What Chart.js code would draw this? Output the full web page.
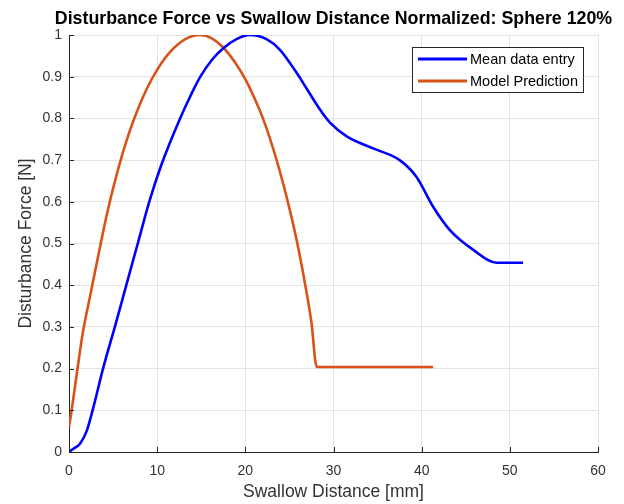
<!DOCTYPE html>
<html>
<head>
<meta charset="utf-8">
<script src="https://cdn.jsdelivr.net/npm/chart.js@4/dist/chart.umd.min.js"></script>
<style>
  html, body { margin: 0; padding: 0; background: #fff; }
  #wrap { width: 624px; height: 504px; }
</style>
</head>
<body>
<div id="wrap"><canvas id="c" width="624" height="504"></canvas></div>
<script>
const titleText = "Disturbance Force vs Swallow Distance Normalized: Sphere 120%";
const xLabel = "Swallow Distance [mm]";
const yLabel = "Disturbance Force [N]";
const seriesNames = ["Mean data entry", "Model Prediction"];

const meanX = [0, 0.5, 1.25, 2, 2.8, 3.86, 5.2, 6.5, 7.8, 9.1, 10.5, 12.6, 13.8, 14.9, 16.2, 17.5, 19, 20.5, 22.4, 23.9, 25.8, 27.0, 28.5, 29.6, 31.5, 34.5, 37.5, 39.4, 41.3, 43.2, 45.9, 48.5, 51.5];
const meanY = [0, 0.008, 0.02, 0.05, 0.11, 0.2, 0.3, 0.4, 0.5, 0.6, 0.69, 0.80, 0.855, 0.9, 0.94, 0.968, 0.99, 1.0, 0.99, 0.965, 0.91, 0.87, 0.82, 0.79, 0.757, 0.728, 0.70, 0.66, 0.588, 0.532, 0.484, 0.454, 0.454];

const modelX = [0, 0.3, 0.7, 1.2, 1.6, 2.5, 3.5, 4.46, 5.6, 6.5, 7.5, 8.8, 10.1, 11.5, 13.2, 14.86, 16.2, 17.5, 18.8, 20.1, 21, 22, 23.55, 24.7, 25.8, 26.8, 27.5, 28.1, 41.3];
const modelY = [0.06, 0.1, 0.16, 0.235, 0.29, 0.385, 0.49, 0.585, 0.68, 0.745, 0.805, 0.87, 0.92, 0.96, 0.99, 1.0, 0.992, 0.97, 0.935, 0.89, 0.85, 0.80, 0.70, 0.61, 0.51, 0.40, 0.31, 0.204, 0.204];

const xTicks = [0, 10, 20, 30, 40, 50, 60];
const yTicks = [0, 0.1, 0.2, 0.3, 0.4, 0.5, 0.6, 0.7, 0.8, 0.9, 1];

const colors = ["#0000FF", "#D95319"];
const FONT = "'Liberation Sans', Arial, Helvetica, sans-serif";

function pts(xs, ys) { return xs.map((x, i) => ({ x: x, y: ys[i] })); }

const inwardTicks = {
  id: 'inwardTicks',
  afterDatasetsDraw(chart) {
    const ctx = chart.ctx, a = chart.chartArea;
    const xs = chart.scales.x, ys = chart.scales.y;
    ctx.save();
    ctx.strokeStyle = '#262626';
    ctx.lineWidth = 1;
    ctx.beginPath();
    xTicks.forEach(v => {
      const px = Math.round(xs.getPixelForValue(v)) + 0.5;
      ctx.moveTo(px, a.bottom); ctx.lineTo(px, a.bottom - 5);
    });
    yTicks.forEach(v => {
      const py = Math.round(ys.getPixelForValue(v)) + 0.5;
      ctx.moveTo(a.left, py); ctx.lineTo(a.left + 5, py);
    });
    ctx.stroke();
    ctx.restore();
  }
};

const axesTitle = {
  id: 'axesTitle',
  afterDraw(chart) {
    const ctx = chart.ctx, a = chart.chartArea;
    ctx.save();
    ctx.font = "bold 17.8px " + FONT;
    ctx.fillStyle = '#000';
    ctx.textAlign = 'center';
    ctx.textBaseline = 'middle';
    ctx.fillText(titleText, (a.left + a.right) / 2, 19);
    ctx.restore();
  }
};

const boxLegend = {
  id: 'boxLegend',
  afterDraw(chart) {
    const ctx = chart.ctx;
    const bx = 412.5, by = 47.5, bw = 171, bh = 45;
    ctx.save();
    ctx.fillStyle = '#fff';
    ctx.fillRect(bx, by, bw, bh);
    ctx.strokeStyle = '#262626';
    ctx.lineWidth = 1;
    ctx.strokeRect(bx, by, bw, bh);
    const rows = [59, 81];
    ctx.font = "14.5px " + FONT;
    ctx.textBaseline = 'middle';
    seriesNames.forEach((n, i) => {
      ctx.strokeStyle = colors[i];
      ctx.lineWidth = 3;
      ctx.beginPath();
      ctx.moveTo(418, rows[i]); ctx.lineTo(467, rows[i]);
      ctx.stroke();
      ctx.fillStyle = '#000';
      ctx.fillText(n, 470, rows[i] + 1);
    });
    ctx.restore();
  }
};

new Chart(document.getElementById('c'), {
  type: 'line',
  data: {
    datasets: [
      { label: seriesNames[0], data: pts(meanX, meanY), borderColor: colors[0], borderWidth: 2.6, pointRadius: 0, cubicInterpolationMode: 'monotone', fill: false },
      { label: seriesNames[1], data: pts(modelX, modelY), borderColor: colors[1], borderWidth: 2.6, pointRadius: 0, cubicInterpolationMode: 'monotone', fill: false }
    ]
  },
  options: {
    responsive: false,
    animation: false,
    devicePixelRatio: 1,
    layout: { padding: { left: 0, right: 26, top: 35, bottom: 0 } },
    plugins: {
      legend: { display: false },
      tooltip: { enabled: false },
      title: { display: false }
    },
    scales: {
      x: {
        type: 'linear', min: 0, max: 60,
        afterBuildTicks(s) { s.ticks = xTicks.map(v => ({ value: v })); },
        afterFit(s) { s.height = 52; },
        ticks: { color: '#333', font: { family: FONT, size: 14 }, padding: 11, maxRotation: 0, callback: v => String(v) },
        grid: { color: '#e3e3e3', drawTicks: false },
        border: { color: '#262626', width: 1 },
        title: { display: true, text: xLabel, color: '#333', font: { family: FONT, size: 17.5 }, padding: { top: 0, bottom: 1.5 } }
      },
      y: {
        type: 'linear', min: 0, max: 1,
        afterBuildTicks(s) { s.ticks = yTicks.map(v => ({ value: v })); },
        afterFit(s) { s.width = 69; },
        ticks: { color: '#333', font: { family: FONT, size: 14 }, padding: 7, callback: v => String(Math.round(v * 10) / 10) },
        grid: { color: '#e3e3e3', drawTicks: false },
        border: { color: '#262626', width: 1 },
        title: { display: true, text: yLabel, color: '#333', font: { family: FONT, size: 17.5 }, padding: { top: 15.5, bottom: 0 } }
      }
    }
  },
  plugins: [inwardTicks, axesTitle, boxLegend]
});
</script>
</body>
</html>
